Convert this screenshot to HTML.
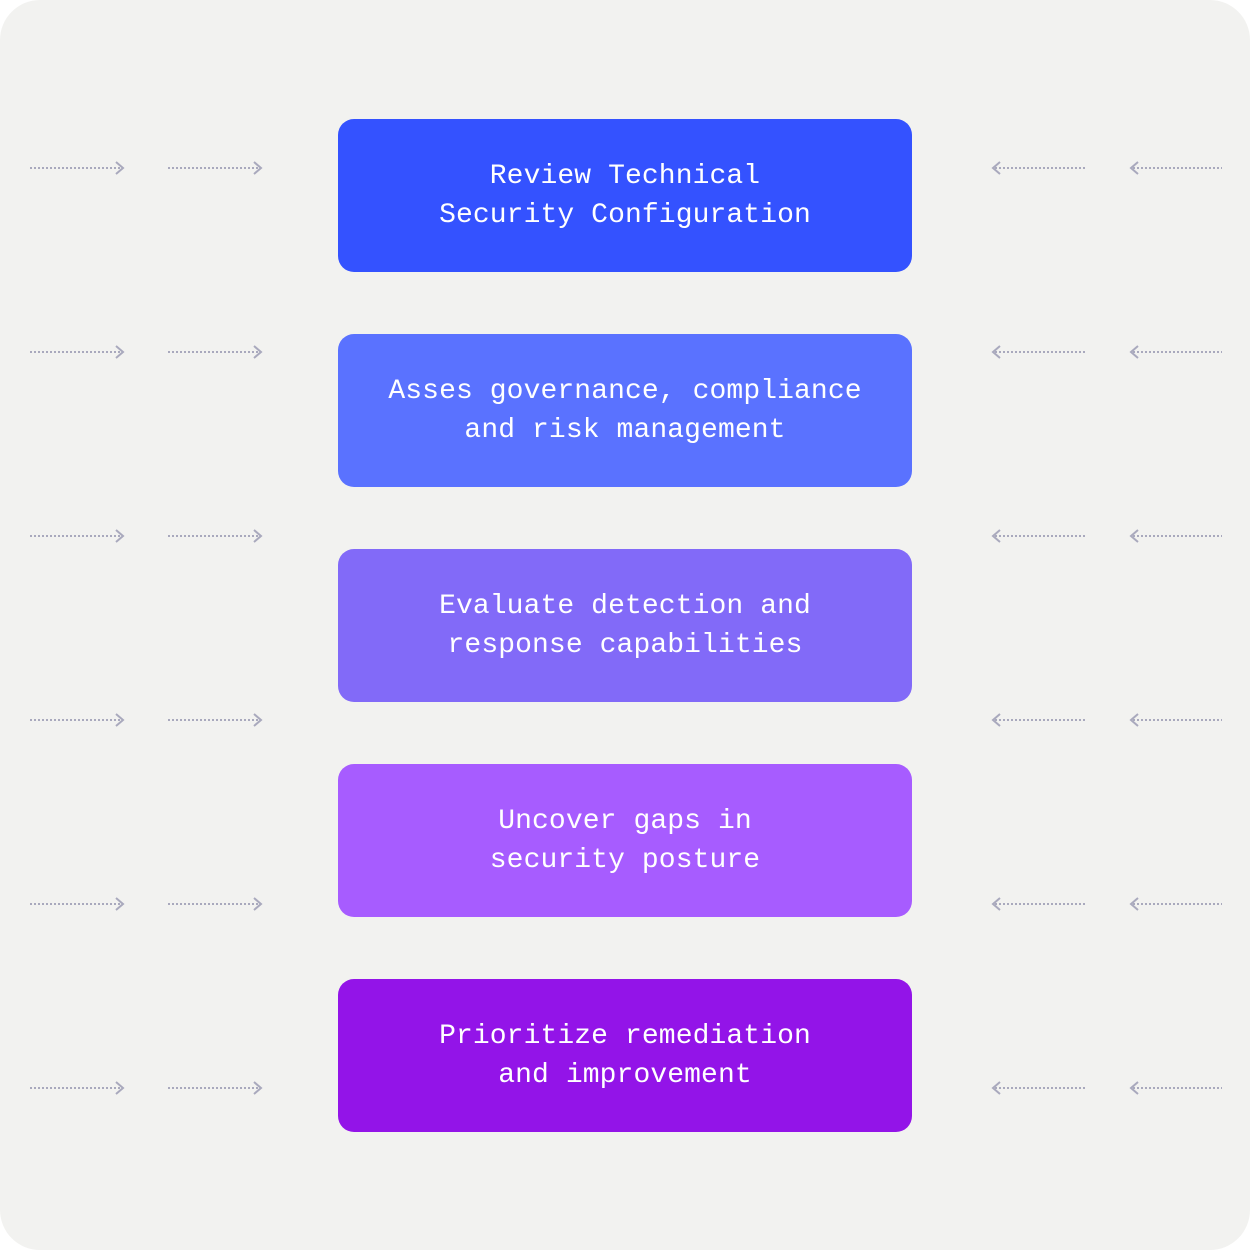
<!DOCTYPE html>
<html><head><meta charset="utf-8"><style>
html,body{margin:0;padding:0;background:#fff;}
.page{position:relative;width:1250px;height:1250px;background:#f2f2f0;border-radius:40px;overflow:hidden;}
.box{position:absolute;left:338px;width:574px;height:153px;border-radius:16px;display:flex;align-items:center;justify-content:center;text-align:center;color:#fff;font-family:"Liberation Mono",monospace;font-size:28px;letter-spacing:0.1px;line-height:39px;}
svg{position:absolute;left:0;top:0;}
</style></head><body><div class="page">
<svg width="1250" height="1250" viewBox="0 0 1250 1250">
<defs>
<g id="r"><line x1="30" y1="0" x2="121" y2="0" stroke="#a9a9bd" stroke-width="2" stroke-dasharray="2,2"/><polyline points="116,-6 123,0 116,6" fill="none" stroke="#a9a9bd" stroke-width="2"/>
<line x1="168" y1="0" x2="259" y2="0" stroke="#a9a9bd" stroke-width="2" stroke-dasharray="2,2"/><polyline points="254,-6 261,0 254,6" fill="none" stroke="#a9a9bd" stroke-width="2"/>
<line x1="995" y1="0" x2="1086" y2="0" stroke="#a9a9bd" stroke-width="2" stroke-dasharray="2,2"/><polyline points="1000,-6 993,0 1000,6" fill="none" stroke="#a9a9bd" stroke-width="2"/>
<line x1="1133" y1="0" x2="1222" y2="0" stroke="#a9a9bd" stroke-width="2" stroke-dasharray="2,2"/><polyline points="1138,-6 1131,0 1138,6" fill="none" stroke="#a9a9bd" stroke-width="2"/></g>
</defs>
<use href="#r" y="168"/><use href="#r" y="352"/><use href="#r" y="536"/><use href="#r" y="720"/><use href="#r" y="904"/><use href="#r" y="1088"/>
</svg>
<div class="box" style="top:119px;background:#3452ff">Review Technical<br>Security Configuration</div>
<div class="box" style="top:334px;background:#5a72ff">Asses governance, compliance<br>and risk management</div>
<div class="box" style="top:549px;background:#826af8">Evaluate detection and<br>response capabilities</div>
<div class="box" style="top:764px;background:#a75cff">Uncover gaps in<br>security posture</div>
<div class="box" style="top:979px;background:#9314e8">Prioritize remediation<br>and improvement</div>
</div></body></html>
